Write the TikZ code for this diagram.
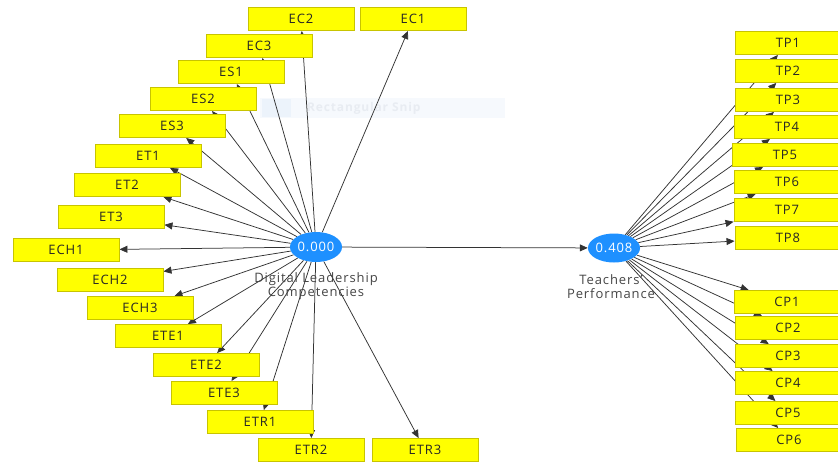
\documentclass[tikz,border=0pt]{standalone}
\usepackage{fontspec}
\setmainfont{Open Sans}[LetterSpace=7]
\usetikzlibrary{arrows.meta,shapes.geometric}
\pgfdeclarelayer{back}
\pgfdeclarelayer{bg}
\pgfsetlayers{back,bg,main}
\definecolor{indfill}{RGB}{255,255,0}
\definecolor{indline}{RGB}{200,196,0}
\definecolor{latfill}{RGB}{30,144,255}
\definecolor{labtext}{RGB}{70,70,70}
\definecolor{snipbg}{RGB}{246,249,253}
\definecolor{snipicon}{RGB}{236,243,251}
\definecolor{sniptext}{RGB}{232,236,242}
\begin{document}
\begin{tikzpicture}[x=1pt,y=-1pt,
  ind/.style={draw=indline, fill=indfill, line width=0.9pt, minimum width=106pt, minimum height=23pt, inner sep=0pt, font=\fontsize{13}{13}\selectfont, text=black!85},
  lat/.style={ellipse, fill=latfill, minimum width=47pt, minimum height=30pt, inner sep=0pt, text=white, font=\fontsize{13}{13}\selectfont},
  latlab/.style={text=labtext, font=\fontsize{13}{14}\selectfont, align=center, inner sep=0pt},
  load/.style={draw=black!80, line width=0.75pt, -{Triangle[length=8pt,width=7pt]}}]
\clip (0,0) rectangle (838,461);
\begin{pgfonlayer}{back}
\fill[white] (0,0) rectangle (838,461);
% faint screen-snip artefact
\fill[snipbg] (260,98) rectangle (505,118);
\fill[snipicon] (262,99) rectangle (291,117);
\node[text=sniptext, font=\fontsize{12}{13}\selectfont\bfseries, anchor=west, inner sep=0pt] (snip) at (307,108) {Rectangular Snip};
\end{pgfonlayer}
% latent variables
\node[lat] (dlc) at (316,247) {0.000};
\node[lat, minimum width=52pt, minimum height=29pt] (tp) at (614,248) {0.408};
\node[latlab] (dlclab) at (316,286) {Digital Leadership\\Competencies};
\node[latlab] (tplab) at (611,287) {Teachers'\\Performance};
% indicators of Digital Leadership Competencies
\node[ind] (ec2) at (301,19) {EC2};
\node[ind] (ec1) at (413,19) {EC1};
\node[ind] (ec3) at (259,46) {EC3};
\node[ind] (es1) at (231,72) {ES1};
\node[ind] (es2) at (203,99) {ES2};
\node[ind] (es3) at (172,126) {ES3};
\node[ind] (et1) at (148,156) {ET1};
\node[ind] (et2) at (127,185) {ET2};
\node[ind] (et3) at (111,217) {ET3};
\node[ind] (ech1) at (66,250) {ECH1};
\node[ind] (ech2) at (110,280) {ECH2};
\node[ind] (ech3) at (140,308) {ECH3};
\node[ind] (ete1) at (168,336) {ETE1};
\node[ind] (ete2) at (206,365) {ETE2};
\node[ind] (ete3) at (224,393) {ETE3};
\node[ind] (etr1) at (260,422) {ETR1};
\node[ind] (etr2) at (311,450) {ETR2};
\node[ind] (etr3) at (425,450) {ETR3};
% indicators of Teachers' Performance
\node[ind] (tp1) at (788,43) {TP1};
\node[ind] (tp2) at (788,71) {TP2};
\node[ind] (tp3) at (788,100) {TP3};
\node[ind] (tp4) at (787,127) {TP4};
\node[ind] (tp5) at (785,155) {TP5};
\node[ind] (tp6) at (787,182) {TP6};
\node[ind] (tp7) at (787,210) {TP7};
\node[ind] (tp8) at (788,238) {TP8};
\node[ind] (cp1) at (787,302) {CP1};
\node[ind] (cp2) at (788,328) {CP2};
\node[ind] (cp3) at (788,356) {CP3};
\node[ind] (cp4) at (788,383) {CP4};
\node[ind] (cp5) at (788,413) {CP5};
\node[ind] (cp6) at (789,440) {CP6};
\begin{pgfonlayer}{bg}
\foreach \n in {ec2,ec1,ec3,es1,es2,es3,et1,et2,et3,ech1,ech2,ech3,ete1,ete2,ete3,etr1,etr2,etr3}
  \draw[load] (dlc) -- (\n);
\foreach \n in {tp1,tp2,tp3,tp4,tp5,tp6,tp7,tp8,cp1,cp2,cp3,cp4,cp5,cp6}
  \draw[load] (tp) -- (\n);
\draw[load] (dlc) -- (tp);
\end{pgfonlayer}
\end{tikzpicture}
\end{document}
